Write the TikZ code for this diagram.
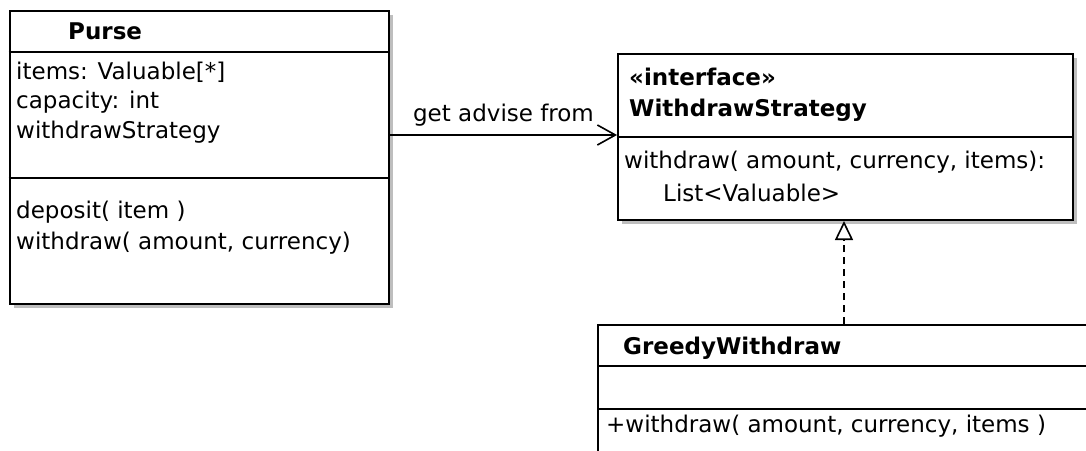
\documentclass[tikz,border=0pt]{standalone}
\usepackage{fontspec}
\setmainfont{DejaVu Sans}
\usetikzlibrary{arrows.meta}
\definecolor{shadowgray}{RGB}{190,190,190}
\tikzset{
  umlbox/.style={draw=black, line width=2pt, fill=white, inner sep=0pt, anchor=north west},
  boxshadow/.style={fill=shadowgray, draw=none},
  divider/.style={draw=black, line width=2pt},
  txt/.style={anchor=base west, inner sep=0pt, font=\fontsize{23}{28}\selectfont},
  btxt/.style={txt, font=\fontsize{23}{28}\selectfont\bfseries},
  assoc/.style={draw=black, line width=1.6pt, -{Straight Barb[length=18pt,width=20pt,line width=1.6pt]}},
  realize/.style={draw=black, line width=1.6pt, dash pattern=on 7pt off 5pt, -{Triangle[open,length=19pt,width=18pt,line width=1.6pt,fill=white]}}
}
\begin{document}
\begin{tikzpicture}[x=1pt,y=-1pt]
\clip (0,0) rectangle (1086,450);
\fill[white] (0,0) rectangle (1086,450);
% shadows
\fill[boxshadow] (14,15) rectangle (393,308);
\fill[boxshadow] (622,58) rectangle (1077,224);
% Purse
\node[umlbox, minimum width=379.5pt, minimum height=293pt] (purse) at (8.5,10) {};
\draw[divider] (8.5,52) -- (388,52);
\draw[divider] (8.5,178) -- (388,178);
\node[btxt] (pursename) at (68,39) {Purse};
\node[txt] (pa1) at (16,79) {items: Valuable[*]};
\node[txt] (pa2) at (16,108) {capacity: int};
\node[txt] (pa3) at (16,138) {withdrawStrategy};
\node[txt] (pm1) at (16,218) {deposit( item )};
\node[txt] (pm2) at (16,249) {withdraw( amount, currency)};
% Interface
\node[umlbox, minimum width=455pt, minimum height=166pt] (iface) at (617,53) {};
\draw[divider] (617,137) -- (1072,137);
\node[btxt] (ster) at (629,85) {«interface»};
\node[btxt] (ifacename) at (629,116) {WithdrawStrategy};
\node[txt] (im1) at (624,168) {withdraw( amount, currency, items):};
\node[txt] (im2) at (663,201) {List<Valuable>};
% Greedy
\node[umlbox, minimum width=520pt, minimum height=160pt] (greedy) at (597,324) {};
\draw[divider] (597,366) -- (1117,366);
\draw[divider] (597,409) -- (1117,409);
\node[btxt] (greedyname) at (623,354) {GreedyWithdraw};
\node[txt] (gm1) at (606,432) {+withdraw( amount, currency, items )};
% connectors
\coordinate (arrowy) at (0,135);
\coordinate (realx) at (844,0);
\draw[assoc] (purse.east |- arrowy) -- node[above=8pt, inner sep=0pt, font=\fontsize{23}{28}\selectfont] (lbl) {get advise from} (iface.west |- arrowy);
\draw[realize] (greedy.north -| realx) -- (iface.south -| realx);
\end{tikzpicture}
\end{document}
